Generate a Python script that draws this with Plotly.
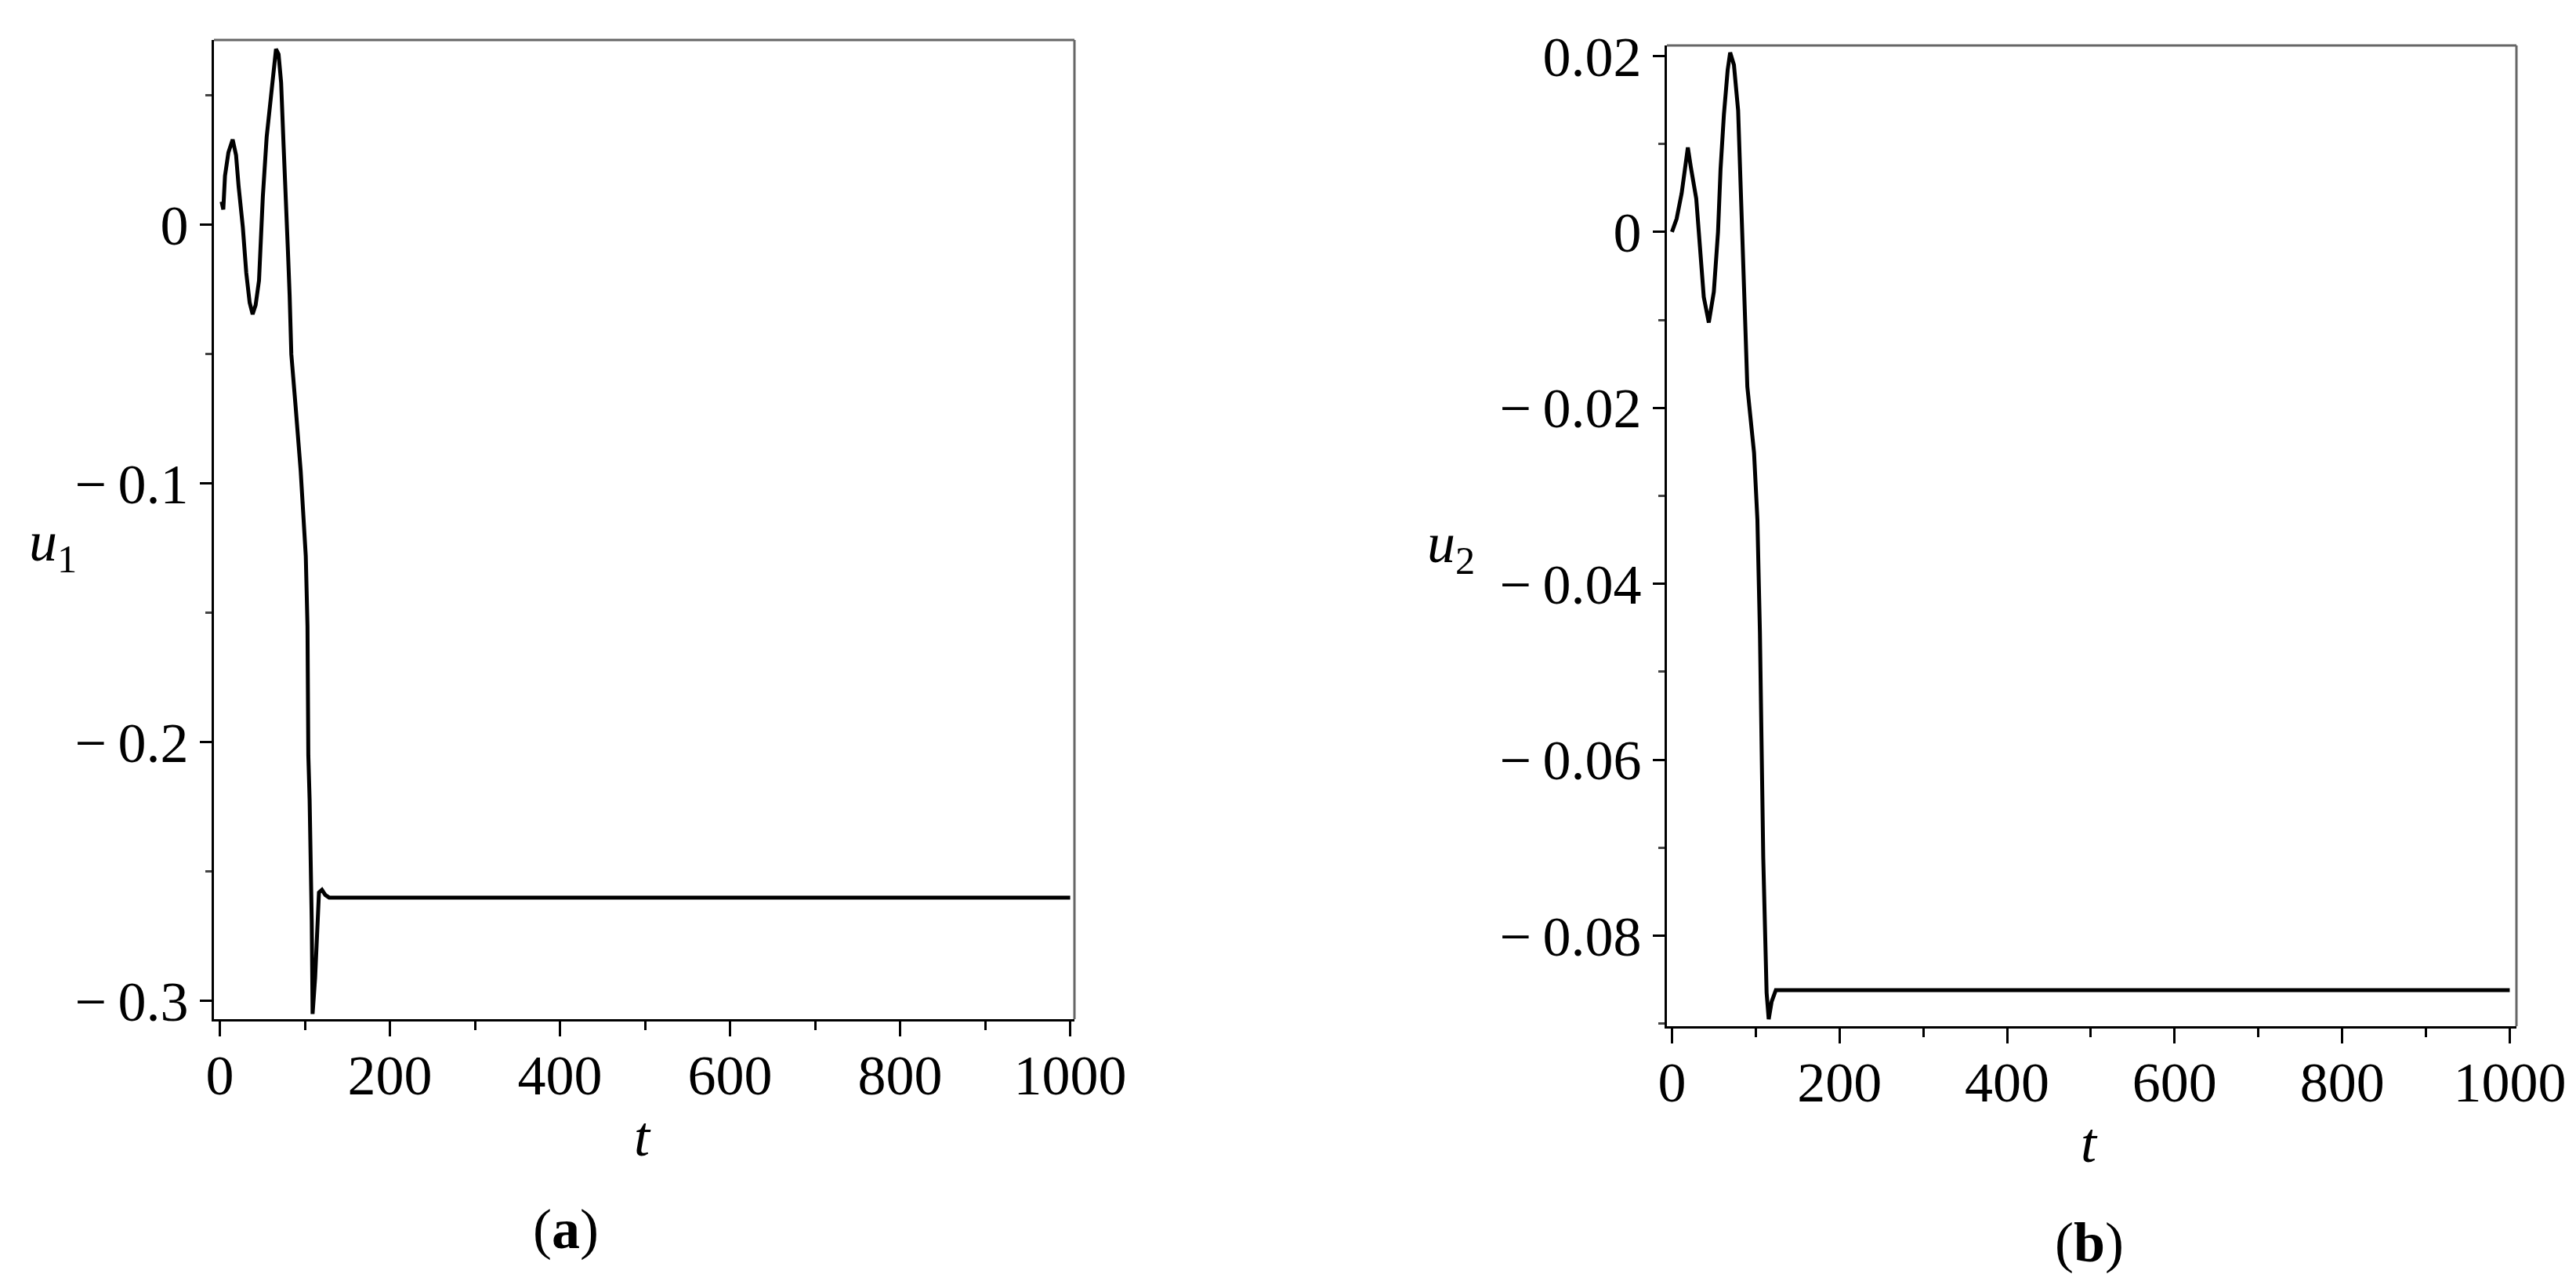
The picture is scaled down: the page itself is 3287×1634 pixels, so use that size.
import plotly.graph_objects as go

# panel (a): u1(t)
t_u1 = [2, 4, 6, 10, 15, 19, 22, 27, 31, 35, 38.5, 42, 46, 50.5, 55, 61.5, 66, 69, 72, 75,
        77, 80, 82, 84, 89, 95, 101, 103, 104, 105.5, 108, 109, 112, 114.7, 116.5, 120, 124, 128.5, 1000]
u1 = [0.009, 0.006, 0.019, 0.028, 0.033, 0.027, 0.015, -0.001, -0.0185, -0.030,
      -0.0345, -0.031, -0.0215, 0.011, 0.034, 0.053, 0.068, 0.066, 0.055, 0.030,
      0.010, -0.010, -0.027, -0.050, -0.070, -0.095, -0.128, -0.155, -0.205, -0.222,
      -0.269, -0.305, -0.291, -0.269, -0.258, -0.257, -0.259, -0.260, -0.260]

# panel (b): u2(t)
t_u2 = [0, 5.6, 11.6, 15, 19, 22.5, 29, 33.5, 38, 44, 50, 55, 58, 62, 66.5, 69.5, 74, 79, 82, 86,
        88, 90, 98, 102, 105, 109, 113, 115.5, 119, 124, 1000]
u2 = [0.0, 0.0015, 0.0044, 0.0068, 0.0096, 0.0074, 0.0038, -0.0018, -0.0074, -0.0103,
      -0.0068, 0.0, 0.0071, 0.0133, 0.0184, 0.0204, 0.019, 0.0138, 0.0049, -0.007,
      -0.0115, -0.0176, -0.0251, -0.0327, -0.0455, -0.0712, -0.0865, -0.0895, -0.0875, -0.0862,
      -0.0862]

x_ticks = [0, 200, 400, 600, 800, 1000]
y1_ticks = [-0.3, -0.2, -0.1, 0]
y1_text = ["\u2212\u20090.3", "\u2212\u20090.2", "\u2212\u20090.1", "0"]
y2_ticks = [-0.08, -0.06, -0.04, -0.02, 0, 0.02]
y2_text = ["\u2212\u20090.08", "\u2212\u20090.06", "\u2212\u20090.04", "\u2212\u20090.02", "0", "0.02"]

W, H = 3287, 1634
FONT = "Liberation Serif"
FS = 72

fig = go.Figure()
fig.add_trace(go.Scatter(x=t_u1, y=u1, mode="lines", line=dict(color="black", width=5),
                         xaxis="x", yaxis="y", showlegend=False))
fig.add_trace(go.Scatter(x=t_u2, y=u2, mode="lines", line=dict(color="black", width=5),
                         xaxis="x2", yaxis="y2", showlegend=False))


def xax(domain, rng, anchor):
    return dict(domain=domain, range=rng, anchor=anchor, automargin=False,
                showgrid=False, zeroline=False,
                showline=True, linecolor="black", linewidth=3,
                ticks="outside", ticklen=19, tickwidth=3, tickcolor="black",
                ticklabelstandoff=-12,
                tickvals=x_ticks, ticktext=[str(v) for v in x_ticks],
                tickfont=dict(family=FONT, size=FS, color="black"),
                minor=dict(dtick=100, tick0=0, ticks="outside", ticklen=11, tickwidth=3,
                           tickcolor="black"))


def yax(domain, rng, anchor, vals, text, mdt):
    return dict(domain=domain, range=rng, anchor=anchor, automargin=False,
                showgrid=False, zeroline=False,
                showline=True, linecolor="black", linewidth=3,
                ticks="outside", ticklen=15, tickwidth=3, tickcolor="black",
                tickvals=vals, ticktext=text,
                tickfont=dict(family=FONT, size=FS, color="black"),
                minor=dict(dtick=mdt, tick0=0, ticks="outside", ticklen=8, tickwidth=3,
                           tickcolor="#444"))


fig.update_layout(
    template="none",
    width=W, height=H,
    margin=dict(l=0, r=0, t=0, b=0),
    paper_bgcolor="white", plot_bgcolor="white",
    xaxis=xax([265 / W, 1363 / W], [-7, 1005], "y"),
    yaxis=yax([1 - 1292 / H, 1 - 43 / H], [-0.307, 0.0715], "x", y1_ticks, y1_text, 0.05),
    xaxis2=xax([2119 / W, 3203 / W], [-6, 1008], "y2"),
    yaxis2=yax([1 - 1301 / H, 1 - 50 / H], [-0.0903, 0.0212], "x2", y2_ticks, y2_text, 0.01),
)

# grey top/right frame lines
for xr, yr in [("x domain", "y domain"), ("x2 domain", "y2 domain")]:
    fig.add_shape(type="line", xref=xr, yref=yr, x0=0, x1=1, y0=1, y1=1,
                  line=dict(color="#666", width=3))
    fig.add_shape(type="line", xref=xr, yref=yr, x0=1, x1=1, y0=0, y1=1,
                  line=dict(color="#666", width=3))

labels = [
    ("<i>u</i><sub>1</sub>", 59, 688),
    ("<i>u</i><sub>2</sub>", 1843, 690),
    ("<i>t</i>", 812, 1442),
    ("<i>t</i>", 2658, 1450),
    ("(<b>a</b>)", 714, 1560),
    ("(<b>b</b>)", 2658, 1577),
]
for txt, px, py in labels:
    fig.add_annotation(text=txt, x=px / W, y=1 - py / H, xref="paper", yref="paper",
                       showarrow=False, xanchor="center", yanchor="middle",
                       font=dict(family=FONT, size=FS, color="black"))

fig.write_html("out.html")
